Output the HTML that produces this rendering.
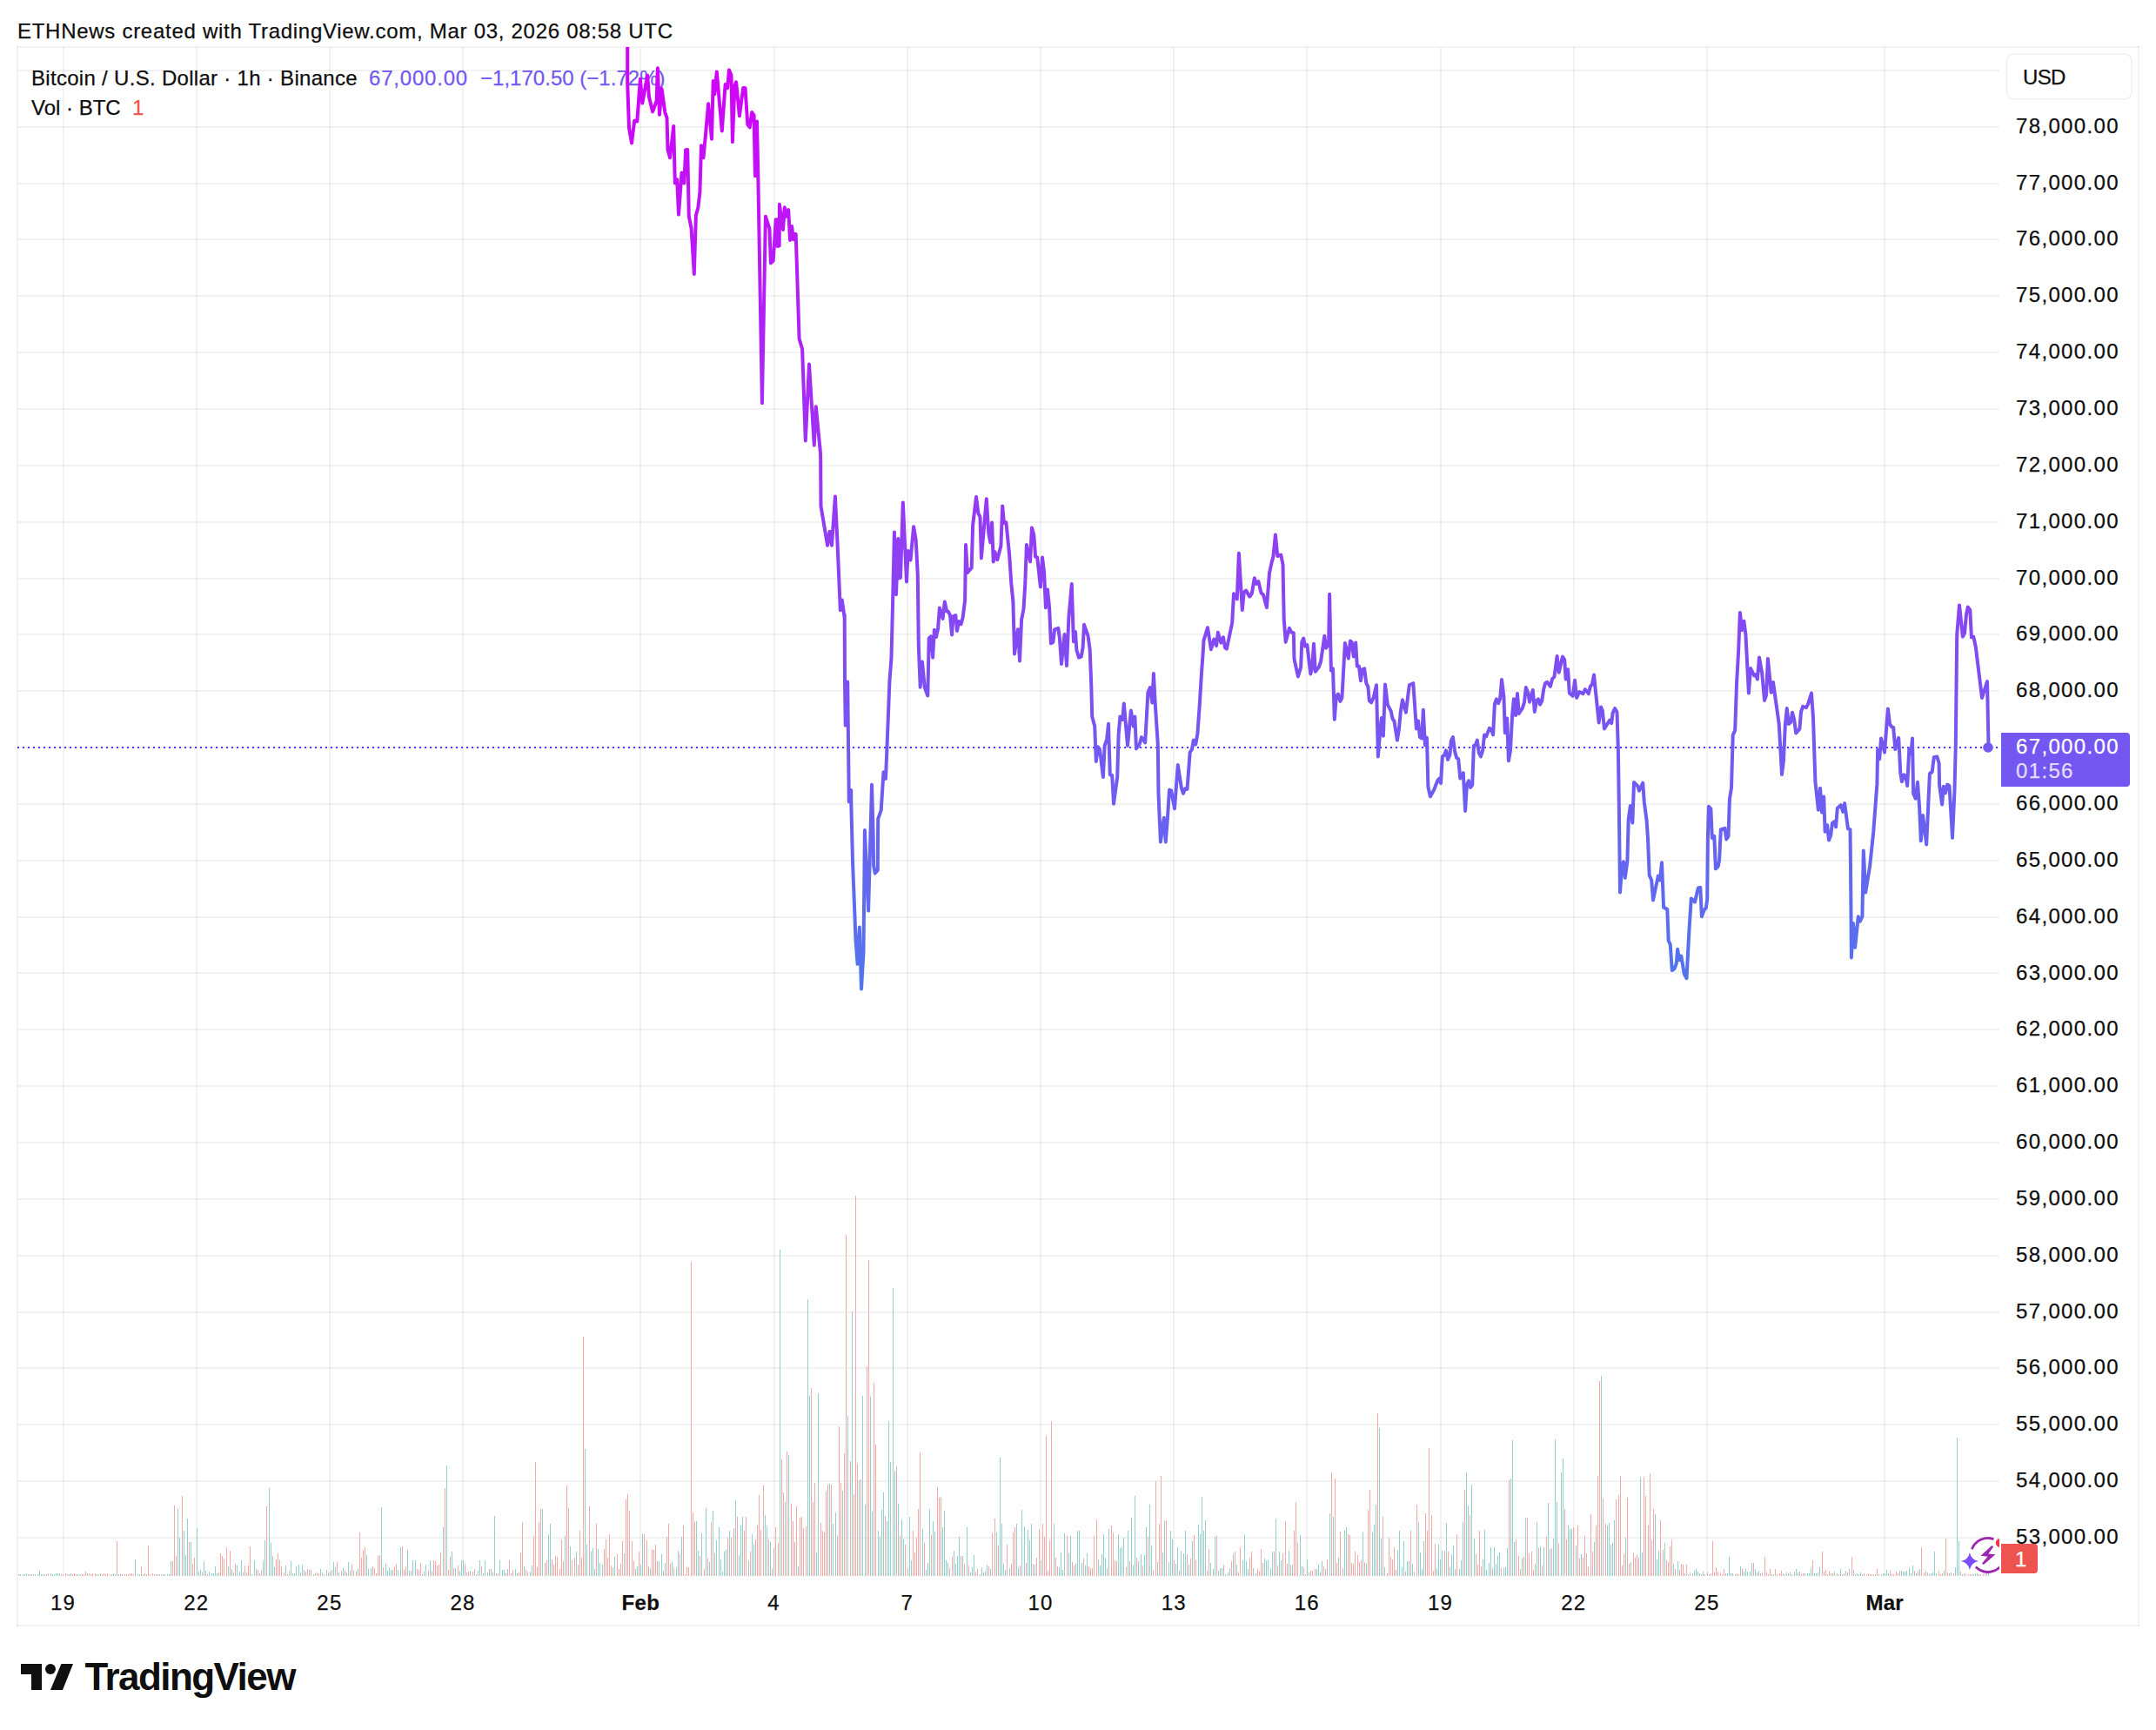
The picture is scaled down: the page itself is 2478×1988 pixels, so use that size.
<!DOCTYPE html><html><head><meta charset="utf-8"><title>BTCUSD chart</title><style>
html,body{margin:0;padding:0;background:#fff}
body{width:2478px;height:1988px;position:relative;overflow:hidden;font-family:"Liberation Sans",sans-serif;color:#0f0f0f;-webkit-text-stroke:0.25px currentColor}
.t{position:absolute;white-space:nowrap;line-height:1}
.pl{position:absolute;left:2317px;font-size:24px;letter-spacing:1.35px;line-height:24px;white-space:nowrap;color:#0f0f0f}
.tl{position:absolute;top:1830px;font-size:24px;line-height:24px;letter-spacing:1.2px;white-space:nowrap;transform:translateX(-50%);color:#0f0f0f}
.tl.b{font-weight:bold;letter-spacing:0.3px}
svg{position:absolute;left:0;top:0}
</style></head><body>
<svg width="2478" height="1988" viewBox="0 0 2478 1988">
<defs><linearGradient id="lg" gradientUnits="userSpaceOnUse" x1="0" y1="54" x2="0" y2="1810"><stop offset="0" stop-color="#d500f9"/><stop offset="1" stop-color="#01bee7"/></linearGradient><clipPath id="cp"><rect x="20" y="54" width="2278" height="1757"/></clipPath></defs>
<g fill="#000" fill-opacity="0.052"><rect x="20" y="1766" width="2278" height="2"/><rect x="20" y="1701" width="2278" height="2"/><rect x="20" y="1636" width="2278" height="2"/><rect x="20" y="1571" width="2278" height="2"/><rect x="20" y="1507" width="2278" height="2"/><rect x="20" y="1442" width="2278" height="2"/><rect x="20" y="1377" width="2278" height="2"/><rect x="20" y="1312" width="2278" height="2"/><rect x="20" y="1247" width="2278" height="2"/><rect x="20" y="1182" width="2278" height="2"/><rect x="20" y="1117" width="2278" height="2"/><rect x="20" y="1053" width="2278" height="2"/><rect x="20" y="988" width="2278" height="2"/><rect x="20" y="923" width="2278" height="2"/><rect x="20" y="858" width="2278" height="2"/><rect x="20" y="793" width="2278" height="2"/><rect x="20" y="728" width="2278" height="2"/><rect x="20" y="664" width="2278" height="2"/><rect x="20" y="599" width="2278" height="2"/><rect x="20" y="534" width="2278" height="2"/><rect x="20" y="469" width="2278" height="2"/><rect x="20" y="404" width="2278" height="2"/><rect x="20" y="339" width="2278" height="2"/><rect x="20" y="274" width="2278" height="2"/><rect x="20" y="210" width="2278" height="2"/><rect x="20" y="145" width="2278" height="2"/><rect x="20" y="80" width="2278" height="2"/><rect x="72" y="54" width="2" height="1757"/><rect x="225" y="54" width="2" height="1757"/><rect x="378" y="54" width="2" height="1757"/><rect x="531" y="54" width="2" height="1757"/><rect x="735" y="54" width="2" height="1757"/><rect x="889" y="54" width="2" height="1757"/><rect x="1042" y="54" width="2" height="1757"/><rect x="1195" y="54" width="2" height="1757"/><rect x="1348" y="54" width="2" height="1757"/><rect x="1501" y="54" width="2" height="1757"/><rect x="1655" y="54" width="2" height="1757"/><rect x="1808" y="54" width="2" height="1757"/><rect x="1961" y="54" width="2" height="1757"/><rect x="2165" y="54" width="2" height="1757"/></g>
<g fill="#000" fill-opacity="0.048"><rect x="19" y="53" width="2440" height="2"/><rect x="19" y="1867" width="2440" height="2"/><rect x="19" y="53" width="2" height="1816"/><rect x="2457" y="53" width="2" height="1816"/></g>
<path d="M21.5 1810.5V1808.5M23.5 1810.5V1808.5M26.5 1810.5V1809.0M28.5 1810.5V1808.5M30.5 1810.5V1808.0M32.5 1810.5V1809.0M36.5 1810.5V1809.0M40.5 1810.5V1809.0M43.5 1810.5V1808.5M45.5 1810.5V1804.5M47.5 1810.5V1809.0M49.5 1810.5V1809.0M53.5 1810.5V1808.5M58.5 1810.5V1808.0M60.5 1810.5V1809.0M62.5 1810.5V1808.5M64.5 1810.5V1808.0M66.5 1810.5V1808.0M68.5 1810.5V1808.0M79.5 1810.5V1808.5M81.5 1810.5V1807.5M89.5 1810.5V1808.5M100.5 1810.5V1807.5M111.5 1810.5V1809.0M115.5 1810.5V1807.5M128.5 1810.5V1808.5M130.5 1810.5V1808.0M132.5 1810.5V1808.5M136.5 1810.5V1808.5M140.5 1810.5V1808.5M155.5 1810.5V1791.5M158.5 1810.5V1809.0M160.5 1810.5V1808.5M166.5 1810.5V1808.0M177.5 1810.5V1808.5M183.5 1810.5V1808.5M187.5 1810.5V1809.0M189.5 1810.5V1809.0M192.5 1810.5V1808.5M196.5 1810.5V1793.5M204.5 1810.5V1733.5M206.5 1810.5V1766.5M211.5 1810.5V1758.5M213.5 1810.5V1786.5M215.5 1810.5V1744.5M219.5 1810.5V1771.5M226.5 1810.5V1756.3M228.5 1810.5V1805.7M230.5 1810.5V1803.9M234.5 1810.5V1793.5M236.5 1810.5V1805.3M240.5 1810.5V1805.6M243.5 1810.5V1808.2M245.5 1810.5V1807.8M247.5 1810.5V1799.9M249.5 1810.5V1808.4M251.5 1810.5V1807.3M262.5 1810.5V1799.5M266.5 1810.5V1803.0M268.5 1810.5V1806.5M272.5 1810.5V1799.2M275.5 1810.5V1806.1M277.5 1810.5V1792.5M283.5 1810.5V1806.7M289.5 1810.5V1808.5M292.5 1810.5V1792.5M296.5 1810.5V1804.2M302.5 1810.5V1793.8M304.5 1810.5V1769.5M309.5 1810.5V1709.5M311.5 1810.5V1772.5M313.5 1810.5V1787.5M315.5 1810.5V1800.7M328.5 1810.5V1799.0M330.5 1810.5V1808.5M334.5 1810.5V1793.5M336.5 1810.5V1808.4M338.5 1810.5V1808.0M340.5 1810.5V1799.6M343.5 1810.5V1797.8M347.5 1810.5V1797.9M349.5 1810.5V1803.7M355.5 1810.5V1804.3M362.5 1810.5V1807.6M368.5 1810.5V1803.1M372.5 1810.5V1808.5M375.5 1810.5V1803.5M379.5 1810.5V1806.2M383.5 1810.5V1795.2M385.5 1810.5V1801.3M389.5 1810.5V1806.7M394.5 1810.5V1802.0M398.5 1810.5V1806.5M400.5 1810.5V1794.5M406.5 1810.5V1805.0M411.5 1810.5V1803.2M421.5 1810.5V1786.5M423.5 1810.5V1803.0M426.5 1810.5V1802.2M438.5 1810.5V1731.5M443.5 1810.5V1797.0M445.5 1810.5V1804.6M447.5 1810.5V1801.2M449.5 1810.5V1804.2M451.5 1810.5V1804.4M457.5 1810.5V1804.3M460.5 1810.5V1777.5M468.5 1810.5V1780.5M470.5 1810.5V1804.8M474.5 1810.5V1792.5M477.5 1810.5V1792.5M487.5 1810.5V1806.4M489.5 1810.5V1797.9M494.5 1810.5V1792.5M496.5 1810.5V1805.0M509.5 1810.5V1754.5M513.5 1810.5V1683.5M519.5 1810.5V1782.5M523.5 1810.5V1802.1M528.5 1810.5V1805.3M530.5 1810.5V1792.5M532.5 1810.5V1792.5M540.5 1810.5V1805.4M547.5 1810.5V1808.5M549.5 1810.5V1805.4M551.5 1810.5V1793.0M555.5 1810.5V1808.3M557.5 1810.5V1792.5M560.5 1810.5V1807.3M564.5 1810.5V1803.4M566.5 1810.5V1807.0M568.5 1810.5V1741.5M574.5 1810.5V1792.5M577.5 1810.5V1804.0M579.5 1810.5V1804.3M583.5 1810.5V1803.3M592.5 1810.5V1803.4M594.5 1810.5V1808.2M602.5 1810.5V1800.4M609.5 1810.5V1806.2M611.5 1810.5V1798.6M623.5 1810.5V1733.5M630.5 1810.5V1762.5M632.5 1810.5V1751.4M649.5 1810.5V1764.5M655.5 1810.5V1777.0M662.5 1810.5V1782.7M672.5 1810.5V1664.5M674.5 1810.5V1774.5M679.5 1810.5V1782.5M681.5 1810.5V1778.9M683.5 1810.5V1802.6M687.5 1810.5V1779.8M689.5 1810.5V1796.0M692.5 1810.5V1797.5M704.5 1810.5V1800.5M706.5 1810.5V1789.4M717.5 1810.5V1784.9M730.5 1810.5V1802.7M732.5 1810.5V1800.1M736.5 1810.5V1798.4M738.5 1810.5V1762.5M747.5 1810.5V1801.5M757.5 1810.5V1793.5M760.5 1810.5V1786.2M764.5 1810.5V1796.1M772.5 1810.5V1795.0M777.5 1810.5V1801.7M779.5 1810.5V1782.2M783.5 1810.5V1765.5M800.5 1810.5V1747.5M802.5 1810.5V1782.2M806.5 1810.5V1761.5M811.5 1810.5V1732.5M815.5 1810.5V1795.3M819.5 1810.5V1735.5M823.5 1810.5V1769.9M826.5 1810.5V1755.1M828.5 1810.5V1792.0M830.5 1810.5V1805.9M832.5 1810.5V1782.5M834.5 1810.5V1780.6M838.5 1810.5V1758.5M845.5 1810.5V1723.5M849.5 1810.5V1787.2M851.5 1810.5V1752.5M853.5 1810.5V1742.5M860.5 1810.5V1793.4M864.5 1810.5V1763.0M866.5 1810.5V1775.4M879.5 1810.5V1740.5M881.5 1810.5V1753.5M885.5 1810.5V1771.6M889.5 1810.5V1779.3M896.5 1810.5V1435.5M902.5 1810.5V1725.5M906.5 1810.5V1671.5M917.5 1810.5V1799.9M928.5 1810.5V1492.5M930.5 1810.5V1603.5M938.5 1810.5V1784.1M940.5 1810.5V1600.5M953.5 1810.5V1704.5M957.5 1810.5V1750.5M960.5 1810.5V1737.5M968.5 1810.5V1712.5M974.5 1810.5V1626.5M979.5 1810.5V1506.5M987.5 1810.5V1700.5M991.5 1810.5V1603.5M994.5 1810.5V1728.5M1000.5 1810.5V1604.5M1002.5 1810.5V1736.5M1009.5 1810.5V1758.5M1011.5 1810.5V1765.5M1013.5 1810.5V1734.5M1015.5 1810.5V1714.5M1019.5 1810.5V1747.5M1021.5 1810.5V1632.5M1023.5 1810.5V1679.5M1026.5 1810.5V1479.5M1028.5 1810.5V1689.5M1032.5 1810.5V1727.5M1036.5 1810.5V1745.5M1038.5 1810.5V1768.5M1045.5 1810.5V1743.3M1047.5 1810.5V1792.9M1060.5 1810.5V1756.5M1064.5 1810.5V1803.7M1066.5 1810.5V1795.7M1068.5 1810.5V1733.5M1072.5 1810.5V1748.2M1074.5 1810.5V1759.5M1083.5 1810.5V1754.8M1085.5 1810.5V1735.5M1087.5 1810.5V1792.9M1089.5 1810.5V1795.5M1096.5 1810.5V1782.0M1098.5 1810.5V1797.3M1100.5 1810.5V1787.7M1102.5 1810.5V1765.8M1106.5 1810.5V1787.5M1111.5 1810.5V1754.5M1115.5 1810.5V1807.2M1117.5 1810.5V1801.3M1119.5 1810.5V1786.5M1126.5 1810.5V1808.5M1128.5 1810.5V1801.2M1130.5 1810.5V1807.0M1134.5 1810.5V1798.2M1138.5 1810.5V1802.7M1145.5 1810.5V1760.5M1149.5 1810.5V1674.5M1151.5 1810.5V1750.5M1153.5 1810.5V1797.3M1155.5 1810.5V1803.5M1160.5 1810.5V1801.8M1168.5 1810.5V1750.5M1170.5 1810.5V1801.6M1174.5 1810.5V1734.5M1177.5 1810.5V1753.5M1181.5 1810.5V1757.5M1183.5 1810.5V1770.3M1185.5 1810.5V1750.5M1189.5 1810.5V1798.1M1196.5 1810.5V1793.4M1211.5 1810.5V1750.5M1217.5 1810.5V1800.6M1219.5 1810.5V1784.4M1221.5 1810.5V1804.0M1223.5 1810.5V1761.5M1228.5 1810.5V1785.1M1230.5 1810.5V1764.5M1236.5 1810.5V1796.5M1238.5 1810.5V1758.5M1240.5 1810.5V1758.5M1243.5 1810.5V1796.4M1247.5 1810.5V1799.2M1249.5 1810.5V1784.8M1262.5 1810.5V1791.8M1264.5 1810.5V1798.9M1266.5 1810.5V1785.6M1268.5 1810.5V1763.3M1270.5 1810.5V1790.8M1274.5 1810.5V1756.5M1285.5 1810.5V1762.7M1287.5 1810.5V1779.4M1289.5 1810.5V1777.7M1291.5 1810.5V1766.5M1296.5 1810.5V1758.5M1300.5 1810.5V1743.5M1302.5 1810.5V1799.2M1304.5 1810.5V1718.5M1308.5 1810.5V1793.8M1311.5 1810.5V1786.4M1315.5 1810.5V1786.6M1317.5 1810.5V1754.5M1321.5 1810.5V1728.5M1323.5 1810.5V1776.4M1330.5 1810.5V1794.7M1336.5 1810.5V1784.3M1338.5 1810.5V1747.5M1343.5 1810.5V1795.0M1345.5 1810.5V1758.5M1347.5 1810.5V1768.8M1351.5 1810.5V1796.6M1353.5 1810.5V1778.0M1357.5 1810.5V1783.2M1360.5 1810.5V1785.3M1362.5 1810.5V1758.5M1366.5 1810.5V1798.2M1370.5 1810.5V1770.5M1377.5 1810.5V1751.5M1379.5 1810.5V1762.5M1381.5 1810.5V1719.5M1383.5 1810.5V1758.5M1385.5 1810.5V1746.5M1391.5 1810.5V1796.4M1394.5 1810.5V1803.0M1396.5 1810.5V1765.5M1400.5 1810.5V1805.1M1402.5 1810.5V1801.5M1404.5 1810.5V1802.4M1411.5 1810.5V1807.0M1413.5 1810.5V1801.7M1417.5 1810.5V1786.4M1421.5 1810.5V1797.5M1428.5 1810.5V1792.6M1430.5 1810.5V1762.5M1432.5 1810.5V1794.1M1434.5 1810.5V1802.9M1440.5 1810.5V1801.7M1443.5 1810.5V1807.6M1453.5 1810.5V1790.5M1455.5 1810.5V1792.8M1457.5 1810.5V1792.6M1460.5 1810.5V1801.9M1462.5 1810.5V1782.5M1466.5 1810.5V1744.5M1470.5 1810.5V1782.5M1472.5 1810.5V1793.2M1481.5 1810.5V1781.5M1485.5 1810.5V1798.4M1494.5 1810.5V1763.5M1496.5 1810.5V1799.7M1502.5 1810.5V1791.9M1504.5 1810.5V1806.6M1513.5 1810.5V1802.8M1515.5 1810.5V1798.0M1519.5 1810.5V1794.2M1523.5 1810.5V1803.4M1528.5 1810.5V1738.5M1532.5 1810.5V1742.5M1538.5 1810.5V1790.2M1545.5 1810.5V1758.5M1547.5 1810.5V1754.5M1566.5 1810.5V1760.9M1570.5 1810.5V1796.8M1577.5 1810.5V1760.5M1579.5 1810.5V1751.5M1581.5 1810.5V1728.5M1585.5 1810.5V1640.5M1587.5 1810.5V1767.5M1591.5 1810.5V1801.2M1606.5 1810.5V1781.4M1608.5 1810.5V1758.5M1611.5 1810.5V1800.8M1613.5 1810.5V1771.1M1617.5 1810.5V1793.7M1619.5 1810.5V1793.9M1623.5 1810.5V1797.3M1625.5 1810.5V1805.5M1630.5 1810.5V1748.5M1632.5 1810.5V1784.4M1634.5 1810.5V1802.9M1636.5 1810.5V1770.5M1651.5 1810.5V1802.3M1653.5 1810.5V1774.5M1655.5 1810.5V1792.0M1657.5 1810.5V1781.8M1662.5 1810.5V1749.5M1666.5 1810.5V1800.6M1668.5 1810.5V1785.8M1670.5 1810.5V1775.7M1677.5 1810.5V1802.8M1679.5 1810.5V1793.2M1681.5 1810.5V1748.5M1685.5 1810.5V1691.5M1687.5 1810.5V1729.5M1691.5 1810.5V1705.5M1694.5 1810.5V1767.5M1704.5 1810.5V1792.4M1706.5 1810.5V1757.5M1708.5 1810.5V1804.4M1711.5 1810.5V1796.4M1713.5 1810.5V1777.9M1717.5 1810.5V1778.2M1719.5 1810.5V1796.8M1721.5 1810.5V1787.8M1723.5 1810.5V1783.9M1728.5 1810.5V1802.1M1730.5 1810.5V1801.4M1732.5 1810.5V1778.5M1736.5 1810.5V1698.5M1738.5 1810.5V1654.5M1740.5 1810.5V1771.5M1749.5 1810.5V1790.7M1753.5 1810.5V1743.5M1764.5 1810.5V1796.7M1766.5 1810.5V1748.5M1770.5 1810.5V1777.2M1774.5 1810.5V1777.8M1779.5 1810.5V1726.5M1781.5 1810.5V1779.9M1785.5 1810.5V1767.5M1787.5 1810.5V1653.5M1789.5 1810.5V1725.5M1794.5 1810.5V1691.5M1796.5 1810.5V1675.5M1802.5 1810.5V1752.5M1804.5 1810.5V1756.5M1806.5 1810.5V1756.5M1811.5 1810.5V1775.5M1817.5 1810.5V1785.9M1832.5 1810.5V1772.3M1840.5 1810.5V1580.5M1847.5 1810.5V1752.5M1849.5 1810.5V1749.5M1851.5 1810.5V1774.5M1853.5 1810.5V1772.5M1855.5 1810.5V1746.5M1868.5 1810.5V1767.1M1874.5 1810.5V1794.8M1885.5 1810.5V1696.5M1887.5 1810.5V1783.5M1902.5 1810.5V1739.5M1904.5 1810.5V1791.5M1906.5 1810.5V1781.5M1913.5 1810.5V1772.9M1923.5 1810.5V1796.5M1928.5 1810.5V1794.0M1936.5 1810.5V1807.8M1940.5 1810.5V1808.5M1945.5 1810.5V1807.5M1947.5 1810.5V1804.5M1949.5 1810.5V1802.5M1951.5 1810.5V1805.5M1953.5 1810.5V1807.5M1957.5 1810.5V1805.5M1959.5 1810.5V1808.5M1964.5 1810.5V1808.5M1985.5 1810.5V1807.5M1987.5 1810.5V1788.5M1989.5 1810.5V1807.5M1991.5 1810.5V1807.5M2000.5 1810.5V1799.5M2004.5 1810.5V1805.5M2006.5 1810.5V1802.5M2008.5 1810.5V1805.5M2011.5 1810.5V1805.5M2013.5 1810.5V1795.5M2017.5 1810.5V1802.5M2021.5 1810.5V1804.5M2023.5 1810.5V1807.5M2036.5 1810.5V1808.5M2038.5 1810.5V1808.5M2049.5 1810.5V1807.5M2055.5 1810.5V1807.5M2057.5 1810.5V1806.5M2062.5 1810.5V1805.5M2064.5 1810.5V1802.5M2066.5 1810.5V1806.5M2074.5 1810.5V1807.5M2077.5 1810.5V1807.5M2079.5 1810.5V1807.5M2081.5 1810.5V1801.5M2085.5 1810.5V1807.5M2087.5 1810.5V1807.5M2089.5 1810.5V1806.5M2091.5 1810.5V1800.5M2100.5 1810.5V1808.5M2106.5 1810.5V1807.5M2108.5 1810.5V1805.5M2115.5 1810.5V1802.5M2121.5 1810.5V1804.5M2123.5 1810.5V1806.5M2130.5 1810.5V1803.5M2132.5 1810.5V1808.5M2134.5 1810.5V1807.5M2138.5 1810.5V1806.5M2140.5 1810.5V1808.5M2151.5 1810.5V1808.5M2159.5 1810.5V1808.5M2164.5 1810.5V1807.5M2166.5 1810.5V1807.5M2168.5 1810.5V1803.5M2170.5 1810.5V1807.5M2185.5 1810.5V1804.5M2187.5 1810.5V1805.5M2189.5 1810.5V1805.5M2191.5 1810.5V1804.5M2194.5 1810.5V1801.5M2196.5 1810.5V1807.5M2198.5 1810.5V1798.5M2202.5 1810.5V1807.5M2206.5 1810.5V1802.5M2215.5 1810.5V1806.5M2219.5 1810.5V1807.5M2221.5 1810.5V1806.5M2223.5 1810.5V1782.5M2225.5 1810.5V1807.5M2234.5 1810.5V1804.5M2240.5 1810.5V1807.5M2247.5 1810.5V1800.5M2249.5 1810.5V1651.5M2251.5 1810.5V1770.5M2255.5 1810.5V1808.5M2259.5 1810.5V1808.5M2266.5 1810.5V1808.5M2268.5 1810.5V1808.5M2270.5 1810.5V1808.0M2274.5 1810.5V1808.5M2283.5 1810.5V1808.0M2285.5 1810.5V1808.0" stroke="#92d2cc" stroke-width="1" fill="none" shape-rendering="crispEdges"/>
<path d="M34.5 1810.5V1808.5M38.5 1810.5V1809.0M51.5 1810.5V1808.5M55.5 1810.5V1808.0M70.5 1810.5V1808.5M72.5 1810.5V1808.5M75.5 1810.5V1808.0M77.5 1810.5V1808.5M83.5 1810.5V1809.0M85.5 1810.5V1808.0M87.5 1810.5V1808.5M92.5 1810.5V1809.0M94.5 1810.5V1808.5M96.5 1810.5V1808.5M98.5 1810.5V1805.5M102.5 1810.5V1808.0M104.5 1810.5V1808.5M106.5 1810.5V1808.0M109.5 1810.5V1808.0M113.5 1810.5V1808.5M117.5 1810.5V1809.0M119.5 1810.5V1807.5M121.5 1810.5V1808.5M123.5 1810.5V1807.5M126.5 1810.5V1809.0M134.5 1810.5V1770.5M138.5 1810.5V1808.5M143.5 1810.5V1808.5M145.5 1810.5V1808.5M147.5 1810.5V1808.5M149.5 1810.5V1808.0M151.5 1810.5V1807.5M153.5 1810.5V1808.5M162.5 1810.5V1799.5M164.5 1810.5V1809.0M168.5 1810.5V1808.5M170.5 1810.5V1775.5M172.5 1810.5V1808.5M175.5 1810.5V1808.0M179.5 1810.5V1808.5M181.5 1810.5V1808.5M185.5 1810.5V1808.5M194.5 1810.5V1809.0M198.5 1810.5V1793.5M200.5 1810.5V1729.5M202.5 1810.5V1787.5M209.5 1810.5V1718.5M217.5 1810.5V1771.5M221.5 1810.5V1796.5M223.5 1810.5V1789.5M232.5 1810.5V1807.1M238.5 1810.5V1808.5M253.5 1810.5V1784.5M255.5 1810.5V1787.5M257.5 1810.5V1790.5M260.5 1810.5V1777.5M264.5 1810.5V1781.5M270.5 1810.5V1797.3M279.5 1810.5V1807.4M281.5 1810.5V1798.8M285.5 1810.5V1798.6M287.5 1810.5V1776.5M294.5 1810.5V1802.9M298.5 1810.5V1807.6M300.5 1810.5V1805.4M306.5 1810.5V1730.5M317.5 1810.5V1792.1M319.5 1810.5V1784.5M321.5 1810.5V1792.5M323.5 1810.5V1800.3M326.5 1810.5V1806.6M332.5 1810.5V1805.6M345.5 1810.5V1806.8M351.5 1810.5V1805.8M353.5 1810.5V1802.7M357.5 1810.5V1804.2M360.5 1810.5V1808.5M364.5 1810.5V1807.3M366.5 1810.5V1808.2M370.5 1810.5V1807.0M377.5 1810.5V1806.5M381.5 1810.5V1804.2M387.5 1810.5V1795.2M392.5 1810.5V1804.9M396.5 1810.5V1804.9M402.5 1810.5V1805.3M404.5 1810.5V1798.4M409.5 1810.5V1805.9M413.5 1810.5V1760.5M415.5 1810.5V1789.5M417.5 1810.5V1780.5M419.5 1810.5V1777.5M428.5 1810.5V1800.0M430.5 1810.5V1801.6M432.5 1810.5V1808.4M434.5 1810.5V1787.6M436.5 1810.5V1786.5M440.5 1810.5V1800.8M453.5 1810.5V1801.2M455.5 1810.5V1796.7M462.5 1810.5V1776.5M464.5 1810.5V1804.4M466.5 1810.5V1800.3M472.5 1810.5V1805.2M479.5 1810.5V1803.4M481.5 1810.5V1804.0M483.5 1810.5V1796.2M485.5 1810.5V1808.5M492.5 1810.5V1804.6M498.5 1810.5V1792.5M500.5 1810.5V1793.7M502.5 1810.5V1798.9M504.5 1810.5V1797.6M506.5 1810.5V1783.5M511.5 1810.5V1709.5M515.5 1810.5V1804.1M517.5 1810.5V1788.5M521.5 1810.5V1801.6M526.5 1810.5V1798.7M534.5 1810.5V1797.1M536.5 1810.5V1807.2M538.5 1810.5V1806.2M543.5 1810.5V1805.5M545.5 1810.5V1803.4M553.5 1810.5V1799.6M562.5 1810.5V1802.8M570.5 1810.5V1807.6M572.5 1810.5V1807.7M581.5 1810.5V1807.8M585.5 1810.5V1792.5M587.5 1810.5V1807.5M589.5 1810.5V1804.0M596.5 1810.5V1806.8M598.5 1810.5V1783.5M600.5 1810.5V1748.5M604.5 1810.5V1803.9M606.5 1810.5V1807.1M613.5 1810.5V1764.5M615.5 1810.5V1679.5M617.5 1810.5V1801.3M619.5 1810.5V1748.5M621.5 1810.5V1733.5M626.5 1810.5V1795.8M628.5 1810.5V1793.2M634.5 1810.5V1792.4M636.5 1810.5V1797.9M638.5 1810.5V1788.0M640.5 1810.5V1789.1M643.5 1810.5V1802.7M645.5 1810.5V1768.9M647.5 1810.5V1794.4M651.5 1810.5V1706.5M653.5 1810.5V1732.5M657.5 1810.5V1792.9M660.5 1810.5V1789.5M664.5 1810.5V1797.8M666.5 1810.5V1758.5M668.5 1810.5V1790.3M670.5 1810.5V1535.5M677.5 1810.5V1730.5M685.5 1810.5V1750.5M694.5 1810.5V1779.9M696.5 1810.5V1768.7M698.5 1810.5V1790.3M700.5 1810.5V1762.5M702.5 1810.5V1798.6M709.5 1810.5V1785.6M711.5 1810.5V1802.8M713.5 1810.5V1797.4M715.5 1810.5V1770.5M719.5 1810.5V1722.5M721.5 1810.5V1716.5M723.5 1810.5V1735.5M726.5 1810.5V1770.5M728.5 1810.5V1793.6M734.5 1810.5V1783.3M740.5 1810.5V1762.5M743.5 1810.5V1769.8M745.5 1810.5V1800.1M749.5 1810.5V1781.2M751.5 1810.5V1780.7M753.5 1810.5V1774.8M755.5 1810.5V1793.6M762.5 1810.5V1805.0M766.5 1810.5V1765.5M768.5 1810.5V1750.5M770.5 1810.5V1796.5M774.5 1810.5V1801.6M781.5 1810.5V1786.0M785.5 1810.5V1752.5M787.5 1810.5V1808.5M789.5 1810.5V1801.1M791.5 1810.5V1801.3M794.5 1810.5V1449.5M796.5 1810.5V1737.5M798.5 1810.5V1748.5M804.5 1810.5V1787.7M809.5 1810.5V1803.0M813.5 1810.5V1791.0M817.5 1810.5V1748.5M821.5 1810.5V1785.0M836.5 1810.5V1766.5M840.5 1810.5V1766.9M843.5 1810.5V1755.5M847.5 1810.5V1742.5M855.5 1810.5V1758.5M857.5 1810.5V1742.5M862.5 1810.5V1783.3M868.5 1810.5V1768.5M870.5 1810.5V1752.9M872.5 1810.5V1717.5M874.5 1810.5V1757.5M877.5 1810.5V1706.5M883.5 1810.5V1768.5M887.5 1810.5V1803.2M891.5 1810.5V1754.5M894.5 1810.5V1772.5M898.5 1810.5V1676.5M900.5 1810.5V1714.5M904.5 1810.5V1667.5M909.5 1810.5V1727.5M911.5 1810.5V1748.2M913.5 1810.5V1772.0M915.5 1810.5V1730.8M919.5 1810.5V1743.5M921.5 1810.5V1742.5M923.5 1810.5V1755.5M926.5 1810.5V1753.5M932.5 1810.5V1594.5M934.5 1810.5V1725.5M936.5 1810.5V1703.5M943.5 1810.5V1749.5M945.5 1810.5V1758.5M947.5 1810.5V1760.5M949.5 1810.5V1713.5M951.5 1810.5V1705.5M955.5 1810.5V1705.5M962.5 1810.5V1764.5M964.5 1810.5V1638.5M966.5 1810.5V1703.5M970.5 1810.5V1669.5M972.5 1810.5V1418.5M977.5 1810.5V1678.5M981.5 1810.5V1716.5M983.5 1810.5V1373.5M985.5 1810.5V1681.5M989.5 1810.5V1699.5M996.5 1810.5V1569.5M998.5 1810.5V1447.5M1004.5 1810.5V1588.5M1006.5 1810.5V1659.5M1017.5 1810.5V1741.5M1030.5 1810.5V1684.5M1034.5 1810.5V1764.5M1040.5 1810.5V1774.7M1043.5 1810.5V1801.8M1049.5 1810.5V1759.0M1051.5 1810.5V1783.5M1053.5 1810.5V1766.5M1055.5 1810.5V1733.5M1057.5 1810.5V1668.5M1062.5 1810.5V1772.5M1070.5 1810.5V1763.5M1077.5 1810.5V1708.5M1079.5 1810.5V1720.5M1081.5 1810.5V1720.5M1091.5 1810.5V1801.9M1094.5 1810.5V1788.7M1104.5 1810.5V1788.0M1108.5 1810.5V1796.5M1113.5 1810.5V1798.5M1121.5 1810.5V1806.6M1123.5 1810.5V1802.6M1132.5 1810.5V1806.0M1136.5 1810.5V1800.2M1140.5 1810.5V1761.7M1143.5 1810.5V1744.5M1147.5 1810.5V1775.5M1157.5 1810.5V1775.2M1162.5 1810.5V1797.2M1164.5 1810.5V1760.5M1166.5 1810.5V1754.5M1172.5 1810.5V1798.5M1179.5 1810.5V1796.3M1187.5 1810.5V1797.2M1191.5 1810.5V1789.6M1194.5 1810.5V1757.0M1198.5 1810.5V1750.5M1200.5 1810.5V1765.5M1202.5 1810.5V1649.5M1204.5 1810.5V1805.4M1206.5 1810.5V1769.5M1208.5 1810.5V1632.5M1213.5 1810.5V1789.6M1215.5 1810.5V1799.7M1226.5 1810.5V1764.8M1232.5 1810.5V1794.5M1234.5 1810.5V1798.6M1245.5 1810.5V1790.6M1251.5 1810.5V1800.4M1253.5 1810.5V1801.9M1255.5 1810.5V1801.6M1257.5 1810.5V1764.5M1260.5 1810.5V1745.5M1272.5 1810.5V1802.1M1277.5 1810.5V1752.5M1279.5 1810.5V1760.5M1281.5 1810.5V1792.5M1283.5 1810.5V1793.6M1294.5 1810.5V1800.8M1298.5 1810.5V1793.8M1306.5 1810.5V1790.3M1313.5 1810.5V1798.5M1319.5 1810.5V1766.1M1325.5 1810.5V1803.6M1328.5 1810.5V1701.5M1332.5 1810.5V1750.5M1334.5 1810.5V1695.5M1340.5 1810.5V1746.5M1349.5 1810.5V1792.6M1355.5 1810.5V1805.3M1364.5 1810.5V1785.5M1368.5 1810.5V1791.1M1372.5 1810.5V1763.5M1374.5 1810.5V1792.6M1387.5 1810.5V1804.9M1389.5 1810.5V1780.2M1398.5 1810.5V1764.5M1406.5 1810.5V1797.5M1408.5 1810.5V1808.5M1415.5 1810.5V1794.1M1419.5 1810.5V1782.5M1423.5 1810.5V1807.3M1425.5 1810.5V1777.5M1436.5 1810.5V1789.6M1438.5 1810.5V1782.5M1445.5 1810.5V1802.8M1447.5 1810.5V1806.0M1449.5 1810.5V1779.5M1451.5 1810.5V1795.9M1464.5 1810.5V1782.5M1468.5 1810.5V1798.9M1474.5 1810.5V1785.1M1477.5 1810.5V1747.5M1479.5 1810.5V1796.6M1483.5 1810.5V1798.5M1487.5 1810.5V1758.5M1489.5 1810.5V1725.5M1491.5 1810.5V1772.5M1498.5 1810.5V1801.5M1500.5 1810.5V1808.5M1506.5 1810.5V1804.6M1508.5 1810.5V1805.3M1511.5 1810.5V1802.7M1517.5 1810.5V1807.4M1521.5 1810.5V1800.0M1525.5 1810.5V1791.9M1530.5 1810.5V1691.5M1534.5 1810.5V1698.5M1536.5 1810.5V1795.5M1540.5 1810.5V1759.5M1543.5 1810.5V1801.7M1549.5 1810.5V1762.5M1551.5 1810.5V1763.7M1553.5 1810.5V1795.9M1555.5 1810.5V1796.8M1557.5 1810.5V1782.7M1560.5 1810.5V1786.9M1562.5 1810.5V1795.1M1564.5 1810.5V1792.7M1568.5 1810.5V1795.4M1572.5 1810.5V1734.5M1574.5 1810.5V1711.5M1583.5 1810.5V1623.5M1589.5 1810.5V1742.5M1594.5 1810.5V1807.6M1596.5 1810.5V1766.5M1598.5 1810.5V1788.9M1600.5 1810.5V1791.8M1602.5 1810.5V1777.5M1604.5 1810.5V1803.5M1615.5 1810.5V1806.2M1621.5 1810.5V1758.5M1628.5 1810.5V1728.5M1638.5 1810.5V1738.5M1640.5 1810.5V1758.5M1642.5 1810.5V1663.5M1645.5 1810.5V1740.5M1647.5 1810.5V1805.1M1649.5 1810.5V1774.2M1660.5 1810.5V1781.6M1664.5 1810.5V1783.4M1672.5 1810.5V1802.9M1674.5 1810.5V1762.5M1683.5 1810.5V1711.5M1689.5 1810.5V1740.5M1696.5 1810.5V1785.5M1698.5 1810.5V1797.9M1700.5 1810.5V1758.5M1702.5 1810.5V1800.4M1715.5 1810.5V1802.0M1725.5 1810.5V1802.0M1734.5 1810.5V1700.5M1742.5 1810.5V1768.5M1745.5 1810.5V1787.7M1747.5 1810.5V1803.3M1751.5 1810.5V1788.5M1755.5 1810.5V1743.5M1757.5 1810.5V1784.5M1760.5 1810.5V1783.4M1762.5 1810.5V1803.9M1768.5 1810.5V1778.9M1772.5 1810.5V1798.9M1777.5 1810.5V1765.5M1783.5 1810.5V1778.6M1791.5 1810.5V1772.5M1798.5 1810.5V1733.5M1800.5 1810.5V1768.5M1808.5 1810.5V1754.5M1813.5 1810.5V1752.5M1815.5 1810.5V1790.9M1819.5 1810.5V1790.2M1821.5 1810.5V1765.0M1823.5 1810.5V1784.5M1825.5 1810.5V1799.5M1828.5 1810.5V1740.1M1830.5 1810.5V1782.9M1834.5 1810.5V1752.5M1836.5 1810.5V1695.5M1838.5 1810.5V1586.5M1842.5 1810.5V1721.5M1845.5 1810.5V1750.5M1857.5 1810.5V1722.5M1860.5 1810.5V1717.5M1862.5 1810.5V1695.5M1864.5 1810.5V1798.6M1866.5 1810.5V1786.3M1870.5 1810.5V1720.5M1872.5 1810.5V1797.4M1877.5 1810.5V1783.5M1879.5 1810.5V1790.2M1881.5 1810.5V1787.3M1883.5 1810.5V1789.5M1889.5 1810.5V1697.5M1891.5 1810.5V1718.5M1894.5 1810.5V1752.5M1896.5 1810.5V1692.5M1898.5 1810.5V1769.5M1900.5 1810.5V1733.5M1908.5 1810.5V1746.5M1911.5 1810.5V1781.1M1915.5 1810.5V1793.3M1917.5 1810.5V1794.5M1919.5 1810.5V1776.5M1921.5 1810.5V1769.5M1925.5 1810.5V1803.1M1930.5 1810.5V1804.1M1932.5 1810.5V1796.6M1934.5 1810.5V1797.8M1938.5 1810.5V1797.8M1942.5 1810.5V1806.5M1955.5 1810.5V1808.5M1962.5 1810.5V1806.5M1966.5 1810.5V1807.5M1968.5 1810.5V1770.5M1970.5 1810.5V1806.5M1972.5 1810.5V1800.5M1974.5 1810.5V1805.5M1977.5 1810.5V1806.5M1979.5 1810.5V1808.5M1981.5 1810.5V1802.5M1983.5 1810.5V1807.5M1994.5 1810.5V1808.5M1996.5 1810.5V1807.5M1998.5 1810.5V1808.5M2002.5 1810.5V1802.5M2015.5 1810.5V1795.5M2019.5 1810.5V1806.5M2025.5 1810.5V1806.5M2028.5 1810.5V1788.5M2030.5 1810.5V1806.5M2032.5 1810.5V1808.5M2034.5 1810.5V1802.5M2040.5 1810.5V1802.5M2042.5 1810.5V1808.5M2045.5 1810.5V1807.5M2047.5 1810.5V1804.5M2051.5 1810.5V1808.5M2053.5 1810.5V1806.5M2059.5 1810.5V1808.5M2068.5 1810.5V1805.5M2070.5 1810.5V1808.5M2072.5 1810.5V1807.5M2083.5 1810.5V1792.5M2094.5 1810.5V1782.5M2096.5 1810.5V1805.5M2098.5 1810.5V1803.5M2102.5 1810.5V1804.5M2104.5 1810.5V1807.5M2111.5 1810.5V1807.5M2113.5 1810.5V1808.5M2117.5 1810.5V1808.5M2119.5 1810.5V1807.5M2125.5 1810.5V1802.5M2128.5 1810.5V1788.5M2136.5 1810.5V1808.5M2142.5 1810.5V1807.5M2145.5 1810.5V1808.5M2147.5 1810.5V1807.5M2149.5 1810.5V1808.5M2153.5 1810.5V1808.5M2155.5 1810.5V1808.5M2157.5 1810.5V1802.5M2162.5 1810.5V1808.5M2172.5 1810.5V1804.5M2174.5 1810.5V1808.5M2176.5 1810.5V1808.5M2179.5 1810.5V1805.5M2181.5 1810.5V1807.5M2183.5 1810.5V1804.5M2200.5 1810.5V1804.5M2204.5 1810.5V1804.5M2208.5 1810.5V1777.5M2211.5 1810.5V1806.5M2213.5 1810.5V1804.5M2217.5 1810.5V1808.5M2228.5 1810.5V1804.5M2230.5 1810.5V1808.5M2232.5 1810.5V1807.5M2236.5 1810.5V1767.5M2238.5 1810.5V1806.5M2242.5 1810.5V1806.5M2245.5 1810.5V1807.5M2253.5 1810.5V1805.5M2257.5 1810.5V1808.0M2262.5 1810.5V1808.5M2264.5 1810.5V1808.5M2272.5 1810.5V1808.0M2276.5 1810.5V1808.5M2279.5 1810.5V1808.5M2281.5 1810.5V1808.0" stroke="#f7a9a7" stroke-width="1" fill="none" shape-rendering="crispEdges"/>
</svg>
<div class="t" style="left:36px;top:76px;font-size:24px;line-height:28px;letter-spacing:0.3px">Bitcoin / U.S. Dollar · 1h · Binance</div>
<div class="t" style="left:424px;top:76px;font-size:24px;line-height:28px;letter-spacing:0.8px;color:#7457f1">67,000.00</div>
<div class="t" style="left:552px;top:76px;font-size:24px;line-height:28px;letter-spacing:0.02px;color:#7457f1">−1,170.50 (−1.72%)</div>
<div class="t" style="left:36px;top:110px;font-size:24px;line-height:28px;letter-spacing:0px">Vol · BTC</div>
<div class="t" style="left:152px;top:110px;font-size:24px;line-height:28px;color:#ef5350">1</div>
<svg width="2478" height="1988" viewBox="0 0 2478 1988">
<g fill="#5533ea"><rect x="20" y="858" width="2" height="2"/><rect x="26" y="858" width="2" height="2"/><rect x="32" y="858" width="2" height="2"/><rect x="38" y="858" width="2" height="2"/><rect x="44" y="858" width="2" height="2"/><rect x="50" y="858" width="2" height="2"/><rect x="56" y="858" width="2" height="2"/><rect x="62" y="858" width="2" height="2"/><rect x="68" y="858" width="2" height="2"/><rect x="74" y="858" width="2" height="2"/><rect x="80" y="858" width="2" height="2"/><rect x="86" y="858" width="2" height="2"/><rect x="92" y="858" width="2" height="2"/><rect x="98" y="858" width="2" height="2"/><rect x="104" y="858" width="2" height="2"/><rect x="110" y="858" width="2" height="2"/><rect x="116" y="858" width="2" height="2"/><rect x="122" y="858" width="2" height="2"/><rect x="128" y="858" width="2" height="2"/><rect x="134" y="858" width="2" height="2"/><rect x="140" y="858" width="2" height="2"/><rect x="146" y="858" width="2" height="2"/><rect x="152" y="858" width="2" height="2"/><rect x="158" y="858" width="2" height="2"/><rect x="164" y="858" width="2" height="2"/><rect x="170" y="858" width="2" height="2"/><rect x="176" y="858" width="2" height="2"/><rect x="182" y="858" width="2" height="2"/><rect x="188" y="858" width="2" height="2"/><rect x="194" y="858" width="2" height="2"/><rect x="200" y="858" width="2" height="2"/><rect x="206" y="858" width="2" height="2"/><rect x="212" y="858" width="2" height="2"/><rect x="218" y="858" width="2" height="2"/><rect x="224" y="858" width="2" height="2"/><rect x="230" y="858" width="2" height="2"/><rect x="236" y="858" width="2" height="2"/><rect x="242" y="858" width="2" height="2"/><rect x="248" y="858" width="2" height="2"/><rect x="254" y="858" width="2" height="2"/><rect x="260" y="858" width="2" height="2"/><rect x="266" y="858" width="2" height="2"/><rect x="272" y="858" width="2" height="2"/><rect x="278" y="858" width="2" height="2"/><rect x="284" y="858" width="2" height="2"/><rect x="290" y="858" width="2" height="2"/><rect x="296" y="858" width="2" height="2"/><rect x="302" y="858" width="2" height="2"/><rect x="308" y="858" width="2" height="2"/><rect x="314" y="858" width="2" height="2"/><rect x="320" y="858" width="2" height="2"/><rect x="326" y="858" width="2" height="2"/><rect x="332" y="858" width="2" height="2"/><rect x="338" y="858" width="2" height="2"/><rect x="344" y="858" width="2" height="2"/><rect x="350" y="858" width="2" height="2"/><rect x="356" y="858" width="2" height="2"/><rect x="362" y="858" width="2" height="2"/><rect x="368" y="858" width="2" height="2"/><rect x="374" y="858" width="2" height="2"/><rect x="380" y="858" width="2" height="2"/><rect x="386" y="858" width="2" height="2"/><rect x="392" y="858" width="2" height="2"/><rect x="398" y="858" width="2" height="2"/><rect x="404" y="858" width="2" height="2"/><rect x="410" y="858" width="2" height="2"/><rect x="416" y="858" width="2" height="2"/><rect x="422" y="858" width="2" height="2"/><rect x="428" y="858" width="2" height="2"/><rect x="434" y="858" width="2" height="2"/><rect x="440" y="858" width="2" height="2"/><rect x="446" y="858" width="2" height="2"/><rect x="452" y="858" width="2" height="2"/><rect x="458" y="858" width="2" height="2"/><rect x="464" y="858" width="2" height="2"/><rect x="470" y="858" width="2" height="2"/><rect x="476" y="858" width="2" height="2"/><rect x="482" y="858" width="2" height="2"/><rect x="488" y="858" width="2" height="2"/><rect x="494" y="858" width="2" height="2"/><rect x="500" y="858" width="2" height="2"/><rect x="506" y="858" width="2" height="2"/><rect x="512" y="858" width="2" height="2"/><rect x="518" y="858" width="2" height="2"/><rect x="524" y="858" width="2" height="2"/><rect x="530" y="858" width="2" height="2"/><rect x="536" y="858" width="2" height="2"/><rect x="542" y="858" width="2" height="2"/><rect x="548" y="858" width="2" height="2"/><rect x="554" y="858" width="2" height="2"/><rect x="560" y="858" width="2" height="2"/><rect x="566" y="858" width="2" height="2"/><rect x="572" y="858" width="2" height="2"/><rect x="578" y="858" width="2" height="2"/><rect x="584" y="858" width="2" height="2"/><rect x="590" y="858" width="2" height="2"/><rect x="596" y="858" width="2" height="2"/><rect x="602" y="858" width="2" height="2"/><rect x="608" y="858" width="2" height="2"/><rect x="614" y="858" width="2" height="2"/><rect x="620" y="858" width="2" height="2"/><rect x="626" y="858" width="2" height="2"/><rect x="632" y="858" width="2" height="2"/><rect x="638" y="858" width="2" height="2"/><rect x="644" y="858" width="2" height="2"/><rect x="650" y="858" width="2" height="2"/><rect x="656" y="858" width="2" height="2"/><rect x="662" y="858" width="2" height="2"/><rect x="668" y="858" width="2" height="2"/><rect x="674" y="858" width="2" height="2"/><rect x="680" y="858" width="2" height="2"/><rect x="686" y="858" width="2" height="2"/><rect x="692" y="858" width="2" height="2"/><rect x="698" y="858" width="2" height="2"/><rect x="704" y="858" width="2" height="2"/><rect x="710" y="858" width="2" height="2"/><rect x="716" y="858" width="2" height="2"/><rect x="722" y="858" width="2" height="2"/><rect x="728" y="858" width="2" height="2"/><rect x="734" y="858" width="2" height="2"/><rect x="740" y="858" width="2" height="2"/><rect x="746" y="858" width="2" height="2"/><rect x="752" y="858" width="2" height="2"/><rect x="758" y="858" width="2" height="2"/><rect x="764" y="858" width="2" height="2"/><rect x="770" y="858" width="2" height="2"/><rect x="776" y="858" width="2" height="2"/><rect x="782" y="858" width="2" height="2"/><rect x="788" y="858" width="2" height="2"/><rect x="794" y="858" width="2" height="2"/><rect x="800" y="858" width="2" height="2"/><rect x="806" y="858" width="2" height="2"/><rect x="812" y="858" width="2" height="2"/><rect x="818" y="858" width="2" height="2"/><rect x="824" y="858" width="2" height="2"/><rect x="830" y="858" width="2" height="2"/><rect x="836" y="858" width="2" height="2"/><rect x="842" y="858" width="2" height="2"/><rect x="848" y="858" width="2" height="2"/><rect x="854" y="858" width="2" height="2"/><rect x="860" y="858" width="2" height="2"/><rect x="866" y="858" width="2" height="2"/><rect x="872" y="858" width="2" height="2"/><rect x="878" y="858" width="2" height="2"/><rect x="884" y="858" width="2" height="2"/><rect x="890" y="858" width="2" height="2"/><rect x="896" y="858" width="2" height="2"/><rect x="902" y="858" width="2" height="2"/><rect x="908" y="858" width="2" height="2"/><rect x="914" y="858" width="2" height="2"/><rect x="920" y="858" width="2" height="2"/><rect x="926" y="858" width="2" height="2"/><rect x="932" y="858" width="2" height="2"/><rect x="938" y="858" width="2" height="2"/><rect x="944" y="858" width="2" height="2"/><rect x="950" y="858" width="2" height="2"/><rect x="956" y="858" width="2" height="2"/><rect x="962" y="858" width="2" height="2"/><rect x="968" y="858" width="2" height="2"/><rect x="974" y="858" width="2" height="2"/><rect x="980" y="858" width="2" height="2"/><rect x="986" y="858" width="2" height="2"/><rect x="992" y="858" width="2" height="2"/><rect x="998" y="858" width="2" height="2"/><rect x="1004" y="858" width="2" height="2"/><rect x="1010" y="858" width="2" height="2"/><rect x="1016" y="858" width="2" height="2"/><rect x="1022" y="858" width="2" height="2"/><rect x="1028" y="858" width="2" height="2"/><rect x="1034" y="858" width="2" height="2"/><rect x="1040" y="858" width="2" height="2"/><rect x="1046" y="858" width="2" height="2"/><rect x="1052" y="858" width="2" height="2"/><rect x="1058" y="858" width="2" height="2"/><rect x="1064" y="858" width="2" height="2"/><rect x="1070" y="858" width="2" height="2"/><rect x="1076" y="858" width="2" height="2"/><rect x="1082" y="858" width="2" height="2"/><rect x="1088" y="858" width="2" height="2"/><rect x="1094" y="858" width="2" height="2"/><rect x="1100" y="858" width="2" height="2"/><rect x="1106" y="858" width="2" height="2"/><rect x="1112" y="858" width="2" height="2"/><rect x="1118" y="858" width="2" height="2"/><rect x="1124" y="858" width="2" height="2"/><rect x="1130" y="858" width="2" height="2"/><rect x="1136" y="858" width="2" height="2"/><rect x="1142" y="858" width="2" height="2"/><rect x="1148" y="858" width="2" height="2"/><rect x="1154" y="858" width="2" height="2"/><rect x="1160" y="858" width="2" height="2"/><rect x="1166" y="858" width="2" height="2"/><rect x="1172" y="858" width="2" height="2"/><rect x="1178" y="858" width="2" height="2"/><rect x="1184" y="858" width="2" height="2"/><rect x="1190" y="858" width="2" height="2"/><rect x="1196" y="858" width="2" height="2"/><rect x="1202" y="858" width="2" height="2"/><rect x="1208" y="858" width="2" height="2"/><rect x="1214" y="858" width="2" height="2"/><rect x="1220" y="858" width="2" height="2"/><rect x="1226" y="858" width="2" height="2"/><rect x="1232" y="858" width="2" height="2"/><rect x="1238" y="858" width="2" height="2"/><rect x="1244" y="858" width="2" height="2"/><rect x="1250" y="858" width="2" height="2"/><rect x="1256" y="858" width="2" height="2"/><rect x="1262" y="858" width="2" height="2"/><rect x="1268" y="858" width="2" height="2"/><rect x="1274" y="858" width="2" height="2"/><rect x="1280" y="858" width="2" height="2"/><rect x="1286" y="858" width="2" height="2"/><rect x="1292" y="858" width="2" height="2"/><rect x="1298" y="858" width="2" height="2"/><rect x="1304" y="858" width="2" height="2"/><rect x="1310" y="858" width="2" height="2"/><rect x="1316" y="858" width="2" height="2"/><rect x="1322" y="858" width="2" height="2"/><rect x="1328" y="858" width="2" height="2"/><rect x="1334" y="858" width="2" height="2"/><rect x="1340" y="858" width="2" height="2"/><rect x="1346" y="858" width="2" height="2"/><rect x="1352" y="858" width="2" height="2"/><rect x="1358" y="858" width="2" height="2"/><rect x="1364" y="858" width="2" height="2"/><rect x="1370" y="858" width="2" height="2"/><rect x="1376" y="858" width="2" height="2"/><rect x="1382" y="858" width="2" height="2"/><rect x="1388" y="858" width="2" height="2"/><rect x="1394" y="858" width="2" height="2"/><rect x="1400" y="858" width="2" height="2"/><rect x="1406" y="858" width="2" height="2"/><rect x="1412" y="858" width="2" height="2"/><rect x="1418" y="858" width="2" height="2"/><rect x="1424" y="858" width="2" height="2"/><rect x="1430" y="858" width="2" height="2"/><rect x="1436" y="858" width="2" height="2"/><rect x="1442" y="858" width="2" height="2"/><rect x="1448" y="858" width="2" height="2"/><rect x="1454" y="858" width="2" height="2"/><rect x="1460" y="858" width="2" height="2"/><rect x="1466" y="858" width="2" height="2"/><rect x="1472" y="858" width="2" height="2"/><rect x="1478" y="858" width="2" height="2"/><rect x="1484" y="858" width="2" height="2"/><rect x="1490" y="858" width="2" height="2"/><rect x="1496" y="858" width="2" height="2"/><rect x="1502" y="858" width="2" height="2"/><rect x="1508" y="858" width="2" height="2"/><rect x="1514" y="858" width="2" height="2"/><rect x="1520" y="858" width="2" height="2"/><rect x="1526" y="858" width="2" height="2"/><rect x="1532" y="858" width="2" height="2"/><rect x="1538" y="858" width="2" height="2"/><rect x="1544" y="858" width="2" height="2"/><rect x="1550" y="858" width="2" height="2"/><rect x="1556" y="858" width="2" height="2"/><rect x="1562" y="858" width="2" height="2"/><rect x="1568" y="858" width="2" height="2"/><rect x="1574" y="858" width="2" height="2"/><rect x="1580" y="858" width="2" height="2"/><rect x="1586" y="858" width="2" height="2"/><rect x="1592" y="858" width="2" height="2"/><rect x="1598" y="858" width="2" height="2"/><rect x="1604" y="858" width="2" height="2"/><rect x="1610" y="858" width="2" height="2"/><rect x="1616" y="858" width="2" height="2"/><rect x="1622" y="858" width="2" height="2"/><rect x="1628" y="858" width="2" height="2"/><rect x="1634" y="858" width="2" height="2"/><rect x="1640" y="858" width="2" height="2"/><rect x="1646" y="858" width="2" height="2"/><rect x="1652" y="858" width="2" height="2"/><rect x="1658" y="858" width="2" height="2"/><rect x="1664" y="858" width="2" height="2"/><rect x="1670" y="858" width="2" height="2"/><rect x="1676" y="858" width="2" height="2"/><rect x="1682" y="858" width="2" height="2"/><rect x="1688" y="858" width="2" height="2"/><rect x="1694" y="858" width="2" height="2"/><rect x="1700" y="858" width="2" height="2"/><rect x="1706" y="858" width="2" height="2"/><rect x="1712" y="858" width="2" height="2"/><rect x="1718" y="858" width="2" height="2"/><rect x="1724" y="858" width="2" height="2"/><rect x="1730" y="858" width="2" height="2"/><rect x="1736" y="858" width="2" height="2"/><rect x="1742" y="858" width="2" height="2"/><rect x="1748" y="858" width="2" height="2"/><rect x="1754" y="858" width="2" height="2"/><rect x="1760" y="858" width="2" height="2"/><rect x="1766" y="858" width="2" height="2"/><rect x="1772" y="858" width="2" height="2"/><rect x="1778" y="858" width="2" height="2"/><rect x="1784" y="858" width="2" height="2"/><rect x="1790" y="858" width="2" height="2"/><rect x="1796" y="858" width="2" height="2"/><rect x="1802" y="858" width="2" height="2"/><rect x="1808" y="858" width="2" height="2"/><rect x="1814" y="858" width="2" height="2"/><rect x="1820" y="858" width="2" height="2"/><rect x="1826" y="858" width="2" height="2"/><rect x="1832" y="858" width="2" height="2"/><rect x="1838" y="858" width="2" height="2"/><rect x="1844" y="858" width="2" height="2"/><rect x="1850" y="858" width="2" height="2"/><rect x="1856" y="858" width="2" height="2"/><rect x="1862" y="858" width="2" height="2"/><rect x="1868" y="858" width="2" height="2"/><rect x="1874" y="858" width="2" height="2"/><rect x="1880" y="858" width="2" height="2"/><rect x="1886" y="858" width="2" height="2"/><rect x="1892" y="858" width="2" height="2"/><rect x="1898" y="858" width="2" height="2"/><rect x="1904" y="858" width="2" height="2"/><rect x="1910" y="858" width="2" height="2"/><rect x="1916" y="858" width="2" height="2"/><rect x="1922" y="858" width="2" height="2"/><rect x="1928" y="858" width="2" height="2"/><rect x="1934" y="858" width="2" height="2"/><rect x="1940" y="858" width="2" height="2"/><rect x="1946" y="858" width="2" height="2"/><rect x="1952" y="858" width="2" height="2"/><rect x="1958" y="858" width="2" height="2"/><rect x="1964" y="858" width="2" height="2"/><rect x="1970" y="858" width="2" height="2"/><rect x="1976" y="858" width="2" height="2"/><rect x="1982" y="858" width="2" height="2"/><rect x="1988" y="858" width="2" height="2"/><rect x="1994" y="858" width="2" height="2"/><rect x="2000" y="858" width="2" height="2"/><rect x="2006" y="858" width="2" height="2"/><rect x="2012" y="858" width="2" height="2"/><rect x="2018" y="858" width="2" height="2"/><rect x="2024" y="858" width="2" height="2"/><rect x="2030" y="858" width="2" height="2"/><rect x="2036" y="858" width="2" height="2"/><rect x="2042" y="858" width="2" height="2"/><rect x="2048" y="858" width="2" height="2"/><rect x="2054" y="858" width="2" height="2"/><rect x="2060" y="858" width="2" height="2"/><rect x="2066" y="858" width="2" height="2"/><rect x="2072" y="858" width="2" height="2"/><rect x="2078" y="858" width="2" height="2"/><rect x="2084" y="858" width="2" height="2"/><rect x="2090" y="858" width="2" height="2"/><rect x="2096" y="858" width="2" height="2"/><rect x="2102" y="858" width="2" height="2"/><rect x="2108" y="858" width="2" height="2"/><rect x="2114" y="858" width="2" height="2"/><rect x="2120" y="858" width="2" height="2"/><rect x="2126" y="858" width="2" height="2"/><rect x="2132" y="858" width="2" height="2"/><rect x="2138" y="858" width="2" height="2"/><rect x="2144" y="858" width="2" height="2"/><rect x="2150" y="858" width="2" height="2"/><rect x="2156" y="858" width="2" height="2"/><rect x="2162" y="858" width="2" height="2"/><rect x="2168" y="858" width="2" height="2"/><rect x="2174" y="858" width="2" height="2"/><rect x="2180" y="858" width="2" height="2"/><rect x="2186" y="858" width="2" height="2"/><rect x="2192" y="858" width="2" height="2"/><rect x="2198" y="858" width="2" height="2"/><rect x="2204" y="858" width="2" height="2"/><rect x="2210" y="858" width="2" height="2"/><rect x="2216" y="858" width="2" height="2"/><rect x="2222" y="858" width="2" height="2"/><rect x="2228" y="858" width="2" height="2"/><rect x="2234" y="858" width="2" height="2"/><rect x="2240" y="858" width="2" height="2"/><rect x="2246" y="858" width="2" height="2"/><rect x="2252" y="858" width="2" height="2"/><rect x="2258" y="858" width="2" height="2"/><rect x="2264" y="858" width="2" height="2"/><rect x="2270" y="858" width="2" height="2"/><rect x="2276" y="858" width="2" height="2"/><rect x="2282" y="858" width="2" height="2"/><rect x="2288" y="858" width="2" height="2"/><rect x="2294" y="858" width="2" height="2"/></g>
<g clip-path="url(#cp)"><path d="M720.9 28.9L721.2 53.9L721.2 95.7L723.0 147.1L726.0 164.5L729.2 138.8L732.3 139.5L735.9 90.8L738.3 118.6L744.2 86.6L745.9 111.0L750.1 128.4L754.7 115.8L755.9 78.3L758.0 131.8L760.5 101.9L764.3 129.1L766.5 135.3L767.5 172.2L770.0 181.2L774.2 145.1L775.8 210.5L778.2 206.3L780.0 246.6L783.5 198.6L786.3 210.5L788.1 172.2L790.2 171.9L791.8 248.7L794.6 262.6L797.8 315.0L799.9 247.3L802.3 239.0L804.4 220.9L806.0 167.3L808.5 181.2L811.3 151.3L814.1 119.3L818.0 159.7L819.7 92.9L821.3 108.2L823.8 82.4L829.8 150.6L833.6 97.1L836.1 101.2L838.0 80.4L840.5 86.6L841.9 163.1L844.4 98.4L846.1 94.3L849.9 133.2L854.2 100.9L856.5 101.2L859.3 143.0L861.7 146.4L864.2 129.1L866.6 132.5L867.9 202.1L870.0 139.5L871.4 207.0L875.9 463.2L879.9 248.7L884.4 262.6L885.9 302.4L888.7 299.7L891.7 252.2L893.1 252.2L893.6 283.0L895.7 282.3L895.9 234.8L900.0 264.0L901.8 238.3L903.8 248.7L906.2 241.1L908.0 275.9L910.1 259.9L911.8 275.2L914.3 268.9L914.7 269.0L918.6 389.4L922.1 401.2L925.8 506.4L930.0 418.6L935.8 511.7L937.8 467.3L943.1 521.7L943.5 581.6L951.1 626.8L953.5 610.8L956.0 626.8L959.9 570.4L962.3 619.1L965.8 701.2L967.8 689.4L970.6 709.6L970.7 706.3L971.0 783.5L971.7 833.6L974.2 783.5L975.8 921.2L978.2 908.0L978.3 922.8L980.0 989.6L983.5 1080.0L985.6 1107.8L987.9 1065.4L990.0 1136.4L992.5 1093.9L993.9 954.1L998.1 1046.6L1002.0 901.8L1003.7 961.7L1004.1 995.1L1005.8 1003.5L1008.8 1000.0L1009.2 940.9L1012.7 931.1L1015.5 887.2L1018.0 894.8L1019.7 853.1L1022.4 783.5L1024.5 755.7L1025.9 700.0L1027.9 611.5L1030.0 683.2L1032.3 619.1L1033.9 664.4L1035.0 663.7L1037.8 577.4L1042.0 668.5L1043.7 633.1L1046.5 643.5L1050.1 605.2L1052.7 620.5L1054.8 660.9L1055.8 741.7L1057.7 789.7L1060.0 760.5L1062.8 790.4L1066.3 799.5L1067.7 733.4L1070.0 731.3L1072.1 755.7L1073.9 723.7L1076.0 732.0L1078.1 722.3L1079.9 698.5L1083.6 711.0L1085.8 691.5L1088.2 702.6L1089.9 702.8L1092.0 707.0L1094.1 729.5L1095.5 708.3L1098.3 707.0L1100.0 725.0L1102.0 713.9L1104.5 717.4L1106.6 709.7L1109.1 690.1L1110.0 626.1L1111.9 658.1L1116.7 652.5L1118.1 603.8L1122.0 571.1L1124.4 589.9L1126.5 594.1L1127.9 641.4L1133.8 573.2L1136.2 612.2L1138.3 623.3L1140.1 600.4L1141.7 645.4L1143.5 634.3L1146.3 643.3L1150.4 627.3L1152.2 581.4L1153.9 600.9L1156.4 600.2L1160.2 638.4L1162.3 670.4L1164.4 691.3L1166.0 751.4L1169.9 723.3L1172.0 759.5L1174.1 712.2L1176.5 699.7L1178.3 670.4L1179.9 625.9L1184.1 645.4L1185.9 606.4L1188.3 614.8L1190.1 639.8L1192.2 640.5L1195.9 674.6L1198.0 640.5L1200.1 657.9L1201.9 698.3L1204.0 677.4L1206.1 698.3L1207.9 739.3L1210.3 737.9L1212.1 723.3L1216.3 721.9L1217.9 733.1L1220.0 763.0L1223.5 728.9L1226.0 765.1L1228.4 709.4L1231.8 671.1L1233.9 737.2L1236.0 726.1L1237.4 747.0L1239.9 755.6L1242.7 754.6L1244.6 744.2L1246.0 717.8L1250.6 731.0L1252.7 747.0L1254.3 788.7L1255.2 823.5L1258.2 834.6L1259.8 875.0L1261.9 858.3L1264.0 861.1L1267.9 893.1L1269.6 856.9L1272.1 849.9L1274.0 831.8L1275.8 890.3L1278.2 891.0L1280.0 923.7L1284.2 893.1L1285.6 844.4L1287.4 823.5L1290.2 827.0L1291.8 808.5L1296.0 856.9L1299.9 816.5L1302.7 834.6L1304.4 823.5L1306.0 860.4L1309.9 854.8L1312.0 847.1L1316.2 853.4L1319.4 795.7L1321.8 790.1L1324.3 807.5L1325.9 774.1L1327.7 808.2L1330.8 855.5L1331.5 912.5L1333.9 967.5L1337.8 939.7L1339.8 967.5L1341.9 940.4L1344.0 907.7L1346.1 908.4L1350.0 929.2L1353.8 879.1L1357.9 905.6L1360.0 911.8L1362.1 906.3L1364.5 907.0L1367.7 864.5L1370.0 861.1L1371.8 850.6L1374.2 855.5L1376.4 843.0L1378.8 809.6L1380.9 774.8L1382.6 751.1L1383.5 735.8L1388.0 721.2L1391.9 746.3L1395.3 734.5L1398.1 742.1L1399.9 726.8L1403.4 738.6L1406.0 732.4L1407.9 744.2L1409.9 745.6L1416.2 715.7L1418.0 682.3L1421.8 688.5L1423.9 635.7L1427.8 701.1L1429.7 680.7L1432.1 678.6L1436.3 685.6L1438.8 682.1L1441.8 664.3L1443.9 671.0L1446.4 668.2L1449.5 681.4L1452.0 683.5L1455.9 698.1L1459.0 658.4L1461.7 645.9L1463.4 639.7L1465.9 614.6L1468.3 639.0L1472.2 637.6L1474.5 648.7L1475.7 711.3L1477.7 737.8L1481.9 721.8L1484.3 726.6L1486.8 727.3L1487.5 757.2L1491.9 777.4L1495.1 767.0L1496.3 737.8L1498.2 733.6L1500.0 742.6L1502.4 741.2L1506.3 774.6L1508.1 767.0L1510.0 739.8L1511.8 771.8L1516.0 766.3L1518.1 760.0L1522.3 730.8L1524.1 744.7L1527.1 740.5L1528.1 682.8L1529.9 770.5L1532.0 768.4L1533.8 826.8L1535.8 800.4L1538.0 797.6L1540.4 805.9L1542.4 801.8L1545.9 739.1L1549.8 756.5L1551.9 736.4L1553.9 738.5L1555.7 754.5L1558.2 738.5L1559.8 765.6L1561.9 765.6L1564.0 782.3L1565.8 769.1L1568.2 768.4L1570.3 785.1L1572.4 789.2L1573.8 805.2L1576.1 807.3L1578.8 801.2L1582.0 787.3L1583.9 869.4L1586.0 843.0L1587.8 824.9L1589.9 845.8L1592.0 786.6L1594.8 809.6L1598.7 817.2L1600.6 826.3L1602.4 828.4L1605.9 850.6L1608.0 837.4L1609.8 817.9L1611.9 804.3L1615.9 818.6L1619.8 787.3L1624.3 785.2L1627.9 837.4L1630.0 828.4L1631.9 847.1L1634.2 848.5L1635.8 815.8L1637.9 856.2L1640.0 847.8L1641.4 904.2L1643.9 915.3L1648.1 907.7L1652.5 896.5L1654.3 894.5L1656.0 900.0L1657.8 869.4L1659.9 868.0L1662.0 862.4L1664.1 872.9L1666.4 867.3L1667.8 851.3L1669.9 847.1L1672.0 863.1L1674.1 870.8L1676.2 872.2L1678.3 894.5L1681.8 888.2L1684.1 932.0L1685.9 902.1L1688.0 897.2L1690.1 904.9L1692.2 902.1L1693.9 856.9L1695.7 856.2L1697.8 850.6L1699.8 865.2L1701.9 869.4L1704.0 863.1L1706.1 844.4L1708.2 846.4L1711.9 836.7L1714.2 838.8L1716.1 844.4L1717.9 808.9L1720.0 803.3L1722.1 808.2L1724.2 802.6L1726.0 781.0L1728.4 799.8L1729.8 842.3L1732.1 825.6L1733.9 874.3L1736.0 862.4L1738.1 822.1L1739.9 803.3L1742.0 822.1L1744.0 797.1L1745.8 820.0L1749.9 813.7L1752.0 806.8L1753.8 790.1L1756.2 795.7L1758.0 806.8L1761.8 792.9L1763.8 817.9L1765.9 805.4L1768.0 803.3L1770.1 809.6L1772.2 805.4L1774.3 791.5L1776.0 785.2L1778.2 783.8L1781.9 788.7L1784.0 780.4L1786.5 777.6L1789.6 753.9L1791.7 772.7L1795.9 754.6L1798.2 758.1L1799.6 780.4L1802.1 769.2L1803.8 796.4L1807.7 799.8L1810.0 781.7L1812.1 801.9L1815.3 795.0L1819.5 797.1L1821.9 792.2L1825.8 797.1L1827.9 788.7L1829.9 786.6L1832.0 775.5L1835.5 809.6L1837.6 830.4L1840.0 812.4L1841.8 816.5L1843.9 837.4L1850.1 827.7L1852.2 831.1L1853.6 819.3L1856.0 814.1L1858.5 818.3L1859.9 863.5L1860.9 933.1L1862.0 1025.4L1864.1 996.9L1865.9 990.3L1867.8 1008.7L1870.4 989.2L1871.7 941.4L1873.8 926.1L1876.3 945.6L1878.0 899.0L1882.2 903.1L1884.0 908.7L1888.2 899.7L1889.8 921.9L1892.6 942.8L1894.0 963.7L1895.7 1005.9L1898.2 1011.5L1900.0 1034.4L1905.8 1006.6L1907.9 1011.5L1910.0 991.3L1912.1 1042.8L1916.3 1044.9L1917.7 1081.1L1919.7 1085.2L1921.8 1115.1L1924.6 1113.1L1926.7 1107.5L1928.1 1090.8L1930.2 1103.3L1932.3 1098.5L1935.8 1119.3L1938.5 1124.2L1941.3 1071.3L1943.8 1032.4L1948.0 1036.5L1951.8 1020.5L1954.3 1019.8L1955.9 1053.2L1958.7 1045.6L1960.8 1043.5L1962.2 1033.7L1962.9 960.9L1963.9 926.8L1966.4 929.6L1967.8 963.0L1970.3 960.9L1971.9 998.3L1974.7 995.7L1976.1 988.7L1977.8 953.2L1982.4 951.8L1984.2 964.4L1986.5 960.9L1987.9 918.5L1990.0 905.2L1991.7 844.7L1994.2 839.1L1996.0 786.1L1998.1 748.5L1999.9 704.0L2002.0 724.2L2004.4 713.7L2006.4 729.1L2009.9 796.5L2012.0 768.0L2016.2 776.4L2018.0 775.0L2019.9 780.5L2022.0 755.5L2025.2 773.6L2028.0 804.9L2030.1 798.6L2031.9 756.9L2035.7 795.8L2038.0 784.0L2044.7 832.0L2048.0 889.9L2049.9 874.6L2051.9 832.0L2053.8 813.9L2055.8 832.0L2058.2 829.9L2060.0 818.8L2062.1 826.5L2064.2 842.5L2068.4 837.6L2070.0 818.1L2072.1 811.8L2076.0 813.2L2078.1 809.1L2082.0 796.5L2084.0 825.1L2086.4 898.1L2088.5 918.3L2089.9 930.8L2092.0 905.7L2094.1 933.6L2096.2 915.5L2097.6 955.8L2100.1 948.2L2102.0 965.6L2104.2 960.0L2105.9 946.1L2108.4 944.0L2110.1 950.3L2111.8 928.7L2115.7 925.2L2118.2 932.9L2120.1 923.1L2124.0 952.4L2126.5 953.1L2127.1 1005.2L2127.9 1100.5L2130.0 1060.9L2132.1 1088.7L2135.8 1053.2L2137.9 1058.8L2140.4 1053.2L2141.8 977.4L2144.2 1025.4L2149.1 995.5L2153.2 956.5L2157.4 900.9L2158.1 861.8L2160.2 872.2L2162.0 848.5L2166.0 864.5L2169.9 814.5L2172.0 831.8L2174.1 835.3L2176.2 836.0L2178.3 861.1L2182.2 847.8L2184.3 888.2L2185.9 898.1L2188.0 890.4L2190.1 891.1L2192.2 903.0L2194.3 860.4L2196.4 865.9L2198.0 848.5L2199.1 912.0L2201.7 917.6L2204.0 898.8L2206.1 927.3L2207.8 966.3L2210.0 937.1L2214.2 970.4L2217.9 889.0L2220.7 887.0L2222.8 870.1L2226.3 869.4L2228.6 877.1L2229.1 902.3L2232.1 924.5L2233.9 903.7L2236.0 911.3L2238.1 901.6L2240.5 903.0L2244.0 962.8L2246.5 907.8L2247.8 854.8L2249.2 729.6L2252.0 695.5L2255.9 731.7L2258.0 727.5L2260.0 705.9L2261.8 697.6L2264.3 701.0L2265.9 732.4L2268.3 731.7L2270.8 743.5L2278.0 801.9L2284.0 783.1L2285.4 852.0L2285.0 859.3" fill="none" stroke="url(#lg)" stroke-width="4" stroke-linejoin="round" stroke-linecap="round"/></g>
<circle cx="2285" cy="859" r="5.8" fill="#7357f0"/>
<path d="M2300 842H2444a4 4 0 0 1 4 4V900a4 4 0 0 1 -4 4H2300Z" fill="#7357f0"/>
<rect x="2306.5" y="62" width="143.5" height="52" rx="8" fill="#fff" stroke="#f0f0f0" stroke-width="1.5"/>
<g clip-path="url(#cp)"><path d="M2266.4 1780.3A19.5 19.5 0 0 1 2291.5 1768.7" fill="none" stroke="#9c27b0" stroke-width="2.8"/><path d="M2270.8 1800.6A19.5 19.5 0 0 0 2302 1796" fill="none" stroke="#9c27b0" stroke-width="2.8"/><path d="M2289.4 1776L2291.1 1777.4L2285.4 1785.5L2293.4 1786.3L2279.8 1798L2278 1796.5L2284.5 1788.8L2276.5 1787.8Z" fill="#9c27b0"/><path d="M2263.9 1784Q2265.5 1792.4 2274 1794Q2265.5 1795.6 2263.9 1804Q2262.3 1795.6 2253.8 1794Q2262.3 1792.4 2263.9 1784Z" fill="#7c4dff"/><circle cx="2298.8" cy="1773" r="5" fill="#f23645"/></g>
<path d="M2300 1774H2338a4 4 0 0 1 4 4V1804a4 4 0 0 1 -4 4H2300Z" fill="#ef5350"/>
<g fill="#0f0f0f"><path d="M24 1912H48V1942H36V1924H24Z"/><circle cx="58" cy="1918" r="6"/><path d="M70.4 1912H84L72 1942H58Z"/></g>
</svg>
<div class="t" style="left:20px;top:21.6px;font-size:24px;line-height:28px;letter-spacing:0.72px">ETHNews created with TradingView.com, Mar 03, 2026 08:58 UTC</div>
<div class="t" style="left:2325px;top:75px;font-size:24px;line-height:28px;letter-spacing:-0.7px">USD</div>
<div class="pl" style="top:1754.0px">53,000.00</div>
<div class="pl" style="top:1689.1px">54,000.00</div>
<div class="pl" style="top:1624.3px">55,000.00</div>
<div class="pl" style="top:1559.4px">56,000.00</div>
<div class="pl" style="top:1494.6px">57,000.00</div>
<div class="pl" style="top:1429.7px">58,000.00</div>
<div class="pl" style="top:1364.9px">59,000.00</div>
<div class="pl" style="top:1300.0px">60,000.00</div>
<div class="pl" style="top:1235.2px">61,000.00</div>
<div class="pl" style="top:1170.3px">62,000.00</div>
<div class="pl" style="top:1105.5px">63,000.00</div>
<div class="pl" style="top:1040.6px">64,000.00</div>
<div class="pl" style="top:975.8px">65,000.00</div>
<div class="pl" style="top:910.9px">66,000.00</div>
<div class="pl" style="top:781.2px">68,000.00</div>
<div class="pl" style="top:716.4px">69,000.00</div>
<div class="pl" style="top:651.5px">70,000.00</div>
<div class="pl" style="top:586.7px">71,000.00</div>
<div class="pl" style="top:521.8px">72,000.00</div>
<div class="pl" style="top:456.9px">73,000.00</div>
<div class="pl" style="top:392.1px">74,000.00</div>
<div class="pl" style="top:327.2px">75,000.00</div>
<div class="pl" style="top:262.4px">76,000.00</div>
<div class="pl" style="top:197.6px">77,000.00</div>
<div class="pl" style="top:132.7px">78,000.00</div>
<div class="pl" style="top:845.5px;color:#fff">67,000.00</div>
<div class="pl" style="top:874px;color:#e3defc">01:56</div>
<div class="tl" style="left:72.5px">19</div>
<div class="tl" style="left:225.7px">22</div>
<div class="tl" style="left:378.9px">25</div>
<div class="tl" style="left:532.1px">28</div>
<div class="tl b" style="left:736.4px">Feb</div>
<div class="tl" style="left:889.6px">4</div>
<div class="tl" style="left:1042.8px">7</div>
<div class="tl" style="left:1196.0px">10</div>
<div class="tl" style="left:1349.2px">13</div>
<div class="tl" style="left:1502.3px">16</div>
<div class="tl" style="left:1655.5px">19</div>
<div class="tl" style="left:1808.7px">22</div>
<div class="tl" style="left:1961.9px">25</div>
<div class="tl b" style="left:2166.2px">Mar</div>
<div class="t" style="left:2316px;top:1780px;font-size:24px;line-height:24px;color:#fff">1</div>
<div class="t" style="left:97.5px;top:1903.2px;font-size:44px;line-height:48px;font-weight:bold;letter-spacing:-1.55px;-webkit-text-stroke:0;color:#0f0f0f">TradingView</div>
</body></html>
